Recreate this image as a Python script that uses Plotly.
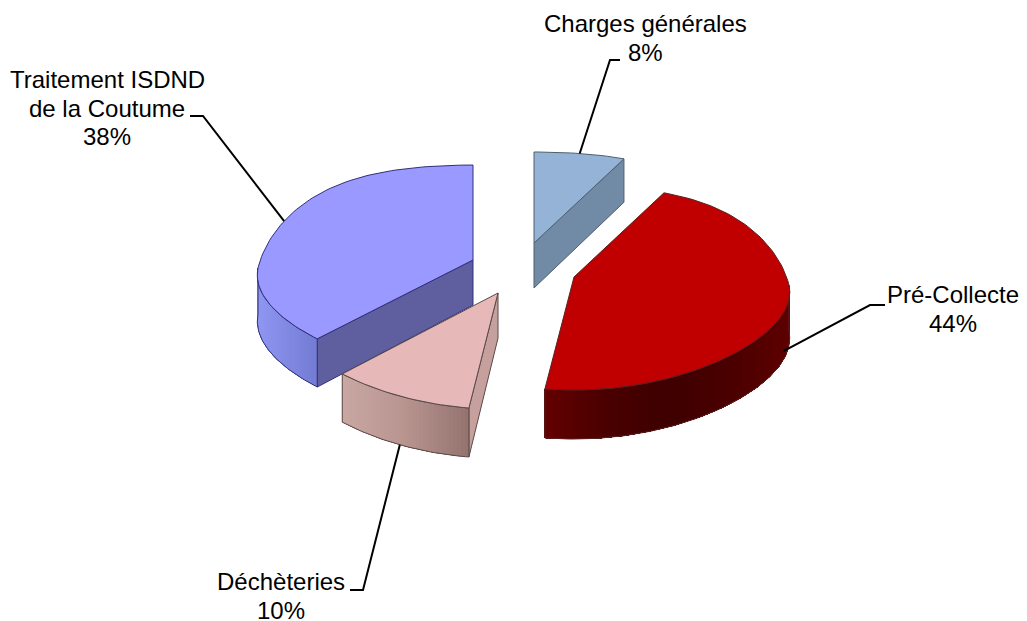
import math
import plotly.graph_objects as go

# Data
categories = ["Charges générales", "Pré-Collecte", "Déchèteries", "Traitement ISDND\nde la Coutume"]
values = [8, 44, 10, 38]

# Styles and placement (exploded apex of each slice, in page pixels)
apex_x = [534, 574, 498, 473]
apex_y = [243, 277, 293, 260]
back_scale = [1.0, 1.0, 1.0, 1.04]
front_scale = [1.0, 1.0, 1.03, 1.0]
top_col = ["#95B3D7", "#C00000", "#E6B9B8", "#9999FF"]
edge_col = ["#4F6070", "#5A2020", "#5A4A48", "#30307A"]
radial_col = ["#718AA5", "#5A0000", "#C5A09C", "#5F5F9F"]
arc_stops = [
    ["#6F88A5", "#6F88A5"],
    ["#630000", "#4A0000", "#3E0000", "#4A0000", "#5E0000"],
    ["#C9A7A2", "#B8948F", "#94736E"],
    ["#8F97F2", "#737BD2"],
]
leader_frac = [0, 0.82, 1.0, 0]
elbow = [[(610, 60), (620, 60)], [(870, 305), (885, 305)], [(363, 590), (350, 590)], [(203, 116), (190, 116)]]
label_pos = [(645, 38), (953, 309), (281, 596), (107, 108)]
line_gap = 28.5
draw_order = [3, 2, 0, 1]


def proj(theta, i):
    s, c = math.sin(theta), math.cos(theta)
    a = 0.15 if c > 0 else 0.08
    k = 25 if c > 0 else 15
    y = 8 - (102 - 3 * c) * c - k * abs(c) * s * s
    y = 8 + (y - 8) * (back_scale[i] if c > 0 else front_scale[i])
    return 215 * s * (1 - a * c), y


def depth(theta):
    return 46 - 3 * math.cos(theta)


def hex2rgb(h):
    return [int(h[i:i + 2], 16) for i in (1, 3, 5)]


def ramp(stops, t):
    p = min(max(t, 0), 1) * (len(stops) - 1)
    i = min(int(p), len(stops) - 2)
    a, b = hex2rgb(stops[i]), hex2rgb(stops[i + 1])
    f = p - i
    return "rgb(%d,%d,%d)" % tuple(round(a[k] + (b[k] - a[k]) * f) for k in range(3))


fig = go.Figure()


def poly(xs, ys, fill, line=None, width=1.0):
    fig.add_trace(go.Scatter(x=xs, y=ys, mode="lines", fill="toself", fillcolor=fill,
                             line=dict(color=line or fill, width=width), hoverinfo="skip", showlegend=False))


total = sum(values)
starts = []
acc = 0.0
for v in values:
    starts.append(acc)
    acc += v
bounds = [(2 * math.pi * s / total, 2 * math.pi * (s + v) / total) for s, v in zip(starts, values)]

for i in draw_order:
    a0, a1 = bounds[i]
    ax, ay = apex_x[i], apex_y[i]
    d0 = 45

    # radial wall facing the viewer
    faces = []
    if math.sin(a0) < -1e-6:
        faces.append(a0)
    if math.sin(a1) > 1e-6:
        faces.append(a1)
    for th in faces:
        px, py = proj(th, i)
        poly([ax, ax + px, ax + px, ax, ax], [ay, ay + py, ay + py + depth(th), ay + d0, ay],
             radial_col[i], edge_col[i])

    # outer wall: painted as shrinking overlapping bands so the shading has no seams
    lo, hi = max(a0, math.pi / 2), min(a1, 3 * math.pi / 2)
    if hi > lo:
        n = max(30, int((hi - lo) * 60))
        ths = [lo + (hi - lo) * k / n for k in range(n + 1)]
        pts = [proj(t, i) for t in ths]
        xmin, xmax = min(p[0] for p in pts), max(p[0] for p in pts)
        for k in range(n):
            sub_t = ths[k:]
            sub_p = pts[k:]
            mid = ((pts[k][0] + pts[k + 1][0]) / 2 - xmin) / (xmax - xmin)
            col = ramp(arc_stops[i], mid)
            xs = [ax + p[0] for p in sub_p] + [ax + p[0] for p in sub_p[::-1]]
            ys = [ay + p[1] for p in sub_p] + [ay + p[1] + depth(t) for p, t in zip(sub_p[::-1], sub_t[::-1])]
            poly(xs + xs[:1], ys + ys[:1], col, col, 0)
        xs = [ax + p[0] for p in pts] + [ax + p[0] for p in pts[::-1]] + [ax + pts[0][0]]
        ys = [ay + p[1] for p in pts] + [ay + p[1] + depth(t) for p, t in zip(pts[::-1], ths[::-1])] + [ay + pts[0][1]]
        fig.add_trace(go.Scatter(x=xs, y=ys, mode="lines", line=dict(color=edge_col[i], width=1),
                                 hoverinfo="skip", showlegend=False))

    # top face
    n = max(12, int((a1 - a0) * 40))
    ths = [a0 + (a1 - a0) * k / n for k in range(n + 1)]
    pts = [proj(t, i) for t in ths]
    poly([ax] + [ax + p[0] for p in pts] + [ax], [ay] + [ay + p[1] for p in pts] + [ay], top_col[i], edge_col[i])

# leader lines and labels
for i in range(len(values)):
    a0, a1 = bounds[i]
    m = (a0 + a1) / 2
    px, py = proj(m, i)
    sx, sy = apex_x[i] + px, apex_y[i] + py + leader_frac[i] * depth(m)
    fig.add_trace(go.Scatter(x=[sx] + [e[0] for e in elbow[i]], y=[sy] + [e[1] for e in elbow[i]], mode="lines",
                             line=dict(color="#000000", width=2), hoverinfo="skip", showlegend=False))
    lines = categories[i].split("\n") + ["%d%%" % round(100 * values[i] / total)]
    for j, txt in enumerate(lines):
        fig.add_annotation(x=label_pos[i][0], y=label_pos[i][1] + (j - (len(lines) - 1) / 2) * line_gap,
                           xref="x", yref="y", showarrow=False, text=txt,
                           font=dict(family="Liberation Sans, Arial, sans-serif", size=24, color="#000000"),
                           align="center")

fig.update_layout(
    width=1027, height=621, margin=dict(l=0, r=0, t=0, b=0, pad=0), autosize=False,
    paper_bgcolor="#FFFFFF", plot_bgcolor="#FFFFFF", showlegend=False,
    xaxis=dict(range=[0, 1027], visible=False, fixedrange=True),
    yaxis=dict(range=[621, 0], visible=False, fixedrange=True),
)
fig.write_html("out.html", config={"displayModeBar": False},
               post_script="document.body.style.margin='0';document.documentElement.style.overflow='hidden';")
